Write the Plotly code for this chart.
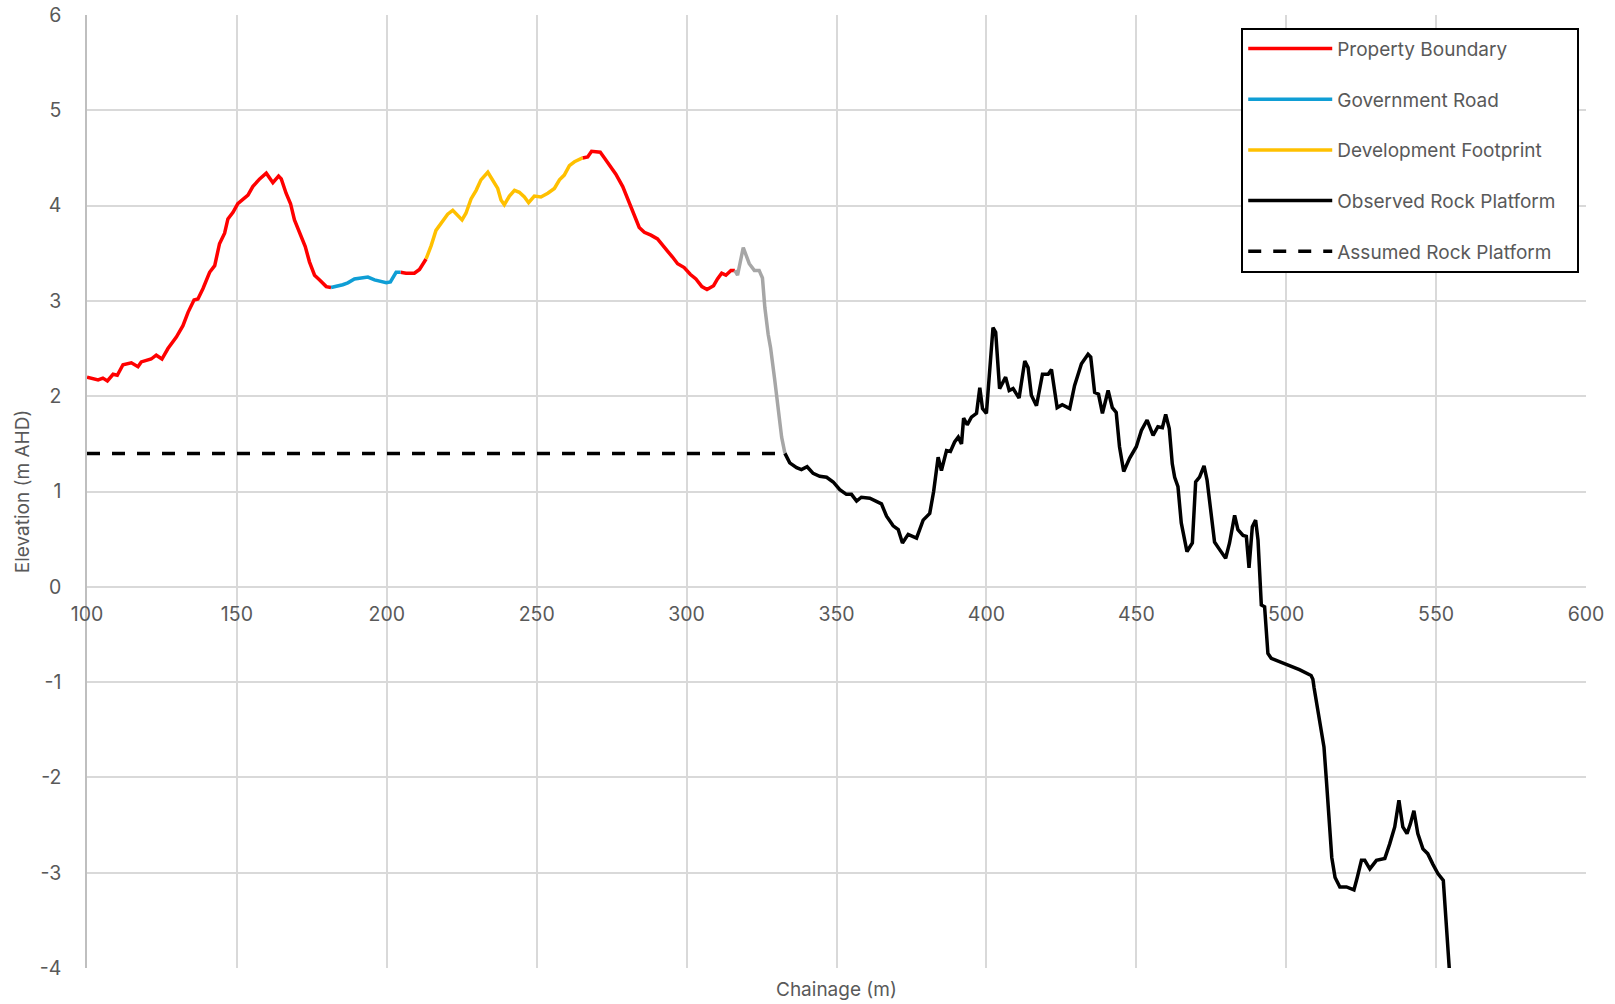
import plotly.graph_objects as go

# ---- data (chainage in m, elevation in m AHD) ----
pb1_x = [100, 103.7, 105.3, 106.8, 108.7, 110.1, 112, 114.8, 117, 118.1, 121.4, 123.1, 125, 127, 129.8, 132,
         133.7, 135.7, 137, 138.7, 140.9, 142.6, 144.2, 145.9, 147, 148.7, 150.3, 152, 153.7, 155.3, 157.6,
         159.8, 162, 163.9, 164.8, 166.4, 167.9, 169.2, 170.9, 172.8, 174.2, 175.9, 177.6, 179.8, 181.4]
pb1_y = [2.20, 2.17, 2.19, 2.16, 2.23, 2.22, 2.33, 2.35, 2.31, 2.36, 2.39, 2.43, 2.39, 2.50, 2.62, 2.74,
         2.88, 3.01, 3.02, 3.13, 3.30, 3.37, 3.60, 3.71, 3.86, 3.93, 4.02, 4.07, 4.11, 4.20, 4.28,
         4.34, 4.24, 4.31, 4.28, 4.13, 4.02, 3.85, 3.72, 3.57, 3.41, 3.27, 3.22, 3.15, 3.14]

gr_x = [181.4, 183.1, 185.3, 187, 189.2, 193.7, 195.9, 199.8, 201.2, 203.1, 204.6]
gr_y = [3.14, 3.15, 3.17, 3.19, 3.23, 3.25, 3.22, 3.19, 3.20, 3.30, 3.30]

pb2_x = [204.6, 206.4, 209.2, 210.9, 213.1]
pb2_y = [3.30, 3.29, 3.29, 3.33, 3.44]

df_x = [213.1, 214.8, 216.4, 218.7, 220.3, 222, 223.7, 225.1, 226.4, 228.1, 229.8, 231.4, 233.7, 235.3, 237,
        238.1, 239.2, 240.9, 242.6, 244.2, 245.9, 247.3, 249.2, 251.4, 253.7, 255.9, 257.6, 259.2, 260.9,
        262.6, 265.3]
df_y = [3.44, 3.58, 3.74, 3.85, 3.91, 3.95, 3.90, 3.85, 3.92, 4.07, 4.16, 4.27, 4.35, 4.27, 4.18,
        4.06, 4.01, 4.10, 4.16, 4.14, 4.09, 4.03, 4.10, 4.09, 4.13, 4.18, 4.27, 4.32, 4.42,
        4.46, 4.50]

pb3_x = [265.3, 267, 268.3, 269.8, 271.2, 272.6, 274.2, 276.4, 278.7, 280.9, 282.6, 284.2, 285.9, 288.1,
         290.3, 292, 293.7, 295.3, 297, 299.2, 301.2, 303.1, 305.1, 306.8, 309, 310.3, 311.7, 313.1,
         314.8, 316.1]
pb3_y = [4.50, 4.51, 4.57, 4.56, 4.56, 4.50, 4.43, 4.33, 4.20, 4.02, 3.89, 3.77, 3.72, 3.69,
         3.65, 3.58, 3.52, 3.46, 3.39, 3.35, 3.28, 3.23, 3.15, 3.12, 3.16, 3.23, 3.29, 3.27,
         3.32, 3.32]

cliff_x = [316.1, 317, 318.9, 320.9, 322.6, 324.2, 325.3, 326.1, 327.2, 328, 329.4, 330.6, 331.7, 332.8]
cliff_y = [3.32, 3.27, 3.56, 3.39, 3.32, 3.32, 3.24, 2.93, 2.65, 2.51, 2.17, 1.89, 1.57, 1.40]

rock_x = [332.8, 334.4, 336.7, 338.3, 340.2, 342.2, 344.4, 346.7, 348.9, 351.1, 353.3, 355, 356.7, 358.3,
          361.1, 362.8, 365, 366.7, 368.9, 370.6, 372, 373.9, 376.7, 378.9, 381.1, 382.4, 383.9, 385,
          386.7, 388, 389.4, 390.6, 391.7, 392.4, 393.6, 395, 396.7, 397.8, 398.7, 400, 401.3, 402.2,
          403.1, 404.4, 406.4, 407.6, 408.9, 410.9, 412.8, 413.9, 415, 416.7, 418.7, 420.6, 421.7, 423.6,
          425.3, 427.8, 429.4, 431.7, 433.9, 434.8, 436.1, 437.4, 438.7, 440.6, 442, 443.3, 444.4, 445.8,
          447.8, 450, 451.7, 453.6, 455.6, 457.2, 458.7, 459.8, 461, 462, 462.8, 463.9, 465, 466.9,
          468.7, 469.8, 471.1, 472.6, 473.6, 475, 476.1, 477.8, 479.8, 481.1, 482.8, 483.9, 485.6, 486.7,
          487.6, 488.7, 489.8, 490.6, 491.7, 492.8, 493.9, 495, 500, 504.4, 508.3, 508.9, 509.3, 510.2,
          511.3, 512.6, 513.5, 514.4, 515.2, 516.3, 517.9, 520.1, 522.6, 523.7, 525.1, 526.2, 527.9,
          530.1, 532.9, 534.5, 536.2, 537.6, 538.9, 540.3, 541.4, 542.6, 543.9, 545.6, 547.2, 548.9,
          550.6, 552.4, 553.3, 554.4, 554.6]
rock_y = [1.40, 1.30, 1.25, 1.23, 1.26, 1.19, 1.16, 1.15, 1.10, 1.02, 0.97, 0.97, 0.90, 0.94,
          0.93, 0.90, 0.87, 0.74, 0.64, 0.60, 0.46, 0.55, 0.51, 0.70, 0.77, 1.00, 1.36, 1.22,
          1.43, 1.42, 1.52, 1.57, 1.50, 1.77, 1.70, 1.78, 1.82, 2.09, 1.87, 1.82, 2.37, 2.72,
          2.67, 2.08, 2.20, 2.06, 2.08, 1.98, 2.37, 2.30, 2.01, 1.90, 2.23, 2.23, 2.28, 1.88,
          1.91, 1.87, 2.11, 2.34, 2.44, 2.41, 2.04, 2.02, 1.82, 2.06, 1.88, 1.83, 1.47, 1.21,
          1.35, 1.47, 1.64, 1.75, 1.59, 1.68, 1.67, 1.81, 1.66, 1.29, 1.15, 1.05, 0.67, 0.37,
          0.46, 1.10, 1.15, 1.27, 1.12, 0.73, 0.47, 0.39, 0.30, 0.46, 0.75, 0.60, 0.54, 0.53,
          0.20, 0.63, 0.70, 0.49, -0.19, -0.21, -0.70, -0.75, -0.81, -0.87, -0.93, -0.97, -1.06, -1.24,
          -1.43, -1.68, -2.07, -2.52, -2.84, -3.05, -3.15, -3.15, -3.18, -3.05, -2.87, -2.87, -2.96,
          -2.87, -2.85, -2.70, -2.52, -2.24, -2.52, -2.59, -2.49, -2.35, -2.59, -2.75, -2.80, -2.91,
          -3.01, -3.08, -3.47, -4.00, -4.10]

assumed_x = [100, 332.8]
assumed_y = [1.4, 1.4]

x_ticks = [100, 150, 200, 250, 300, 350, 400, 450, 500, 550, 600]
y_ticks = [-4, -3, -2, -1, 0, 1, 2, 3, 4, 5, 6]

RED = "#FF0000"
BLUE = "#0F9ED5"
YELLOW = "#FFC000"
GREY = "#A6A6A6"
BLACK = "#000000"
TXT = "#595959"
GRID = "#D9D9D9"
FONT = "Inter, Lato, Arial, sans-serif"
LW = 3.5
PAD = "\u00a0\u00a0\u00a0"  # trailing space inside the legend box

fig = go.Figure()

def add(x, y, name, color, group, show, dash=None):
    fig.add_trace(go.Scatter(
        x=x, y=y, mode="lines", name=name + PAD, legendgroup=group, showlegend=show,
        line=dict(color=color, width=LW, dash=dash), hoverinfo="x+y"))

add(pb1_x, pb1_y, "Property Boundary", RED, "pb", True)
add(pb2_x, pb2_y, "Property Boundary", RED, "pb", False)
add(pb3_x, pb3_y, "Property Boundary", RED, "pb", False)
add(gr_x, gr_y, "Government Road", BLUE, "gr", True)
add(df_x, df_y, "Development Footprint", YELLOW, "df", True)
add(cliff_x, cliff_y, "Cliff", GREY, "cl", False)
add(rock_x, rock_y, "Observed Rock Platform", BLACK, "orp", True)
add(assumed_x, assumed_y, "Assumed Rock Platform", BLACK, "arp", True, dash="13px,12px")

fig.update_layout(
    width=1615, height=1004,
    margin=dict(l=86.5, r=29, t=15.4, b=36, autoexpand=False),
    paper_bgcolor="white", plot_bgcolor="white",
    font=dict(family=FONT, color=TXT, size=18),
    xaxis=dict(
        range=[100, 600], tickvals=x_ticks, ticktext=[str(v) for v in x_ticks],
        anchor="free", position=0.4, side="bottom", automargin=False,
        showgrid=True, gridcolor=GRID, gridwidth=1.5,
        zeroline=False, showline=False, ticks="",
        tickfont=dict(size=19.5, color=TXT), ticklabelstandoff=14,
        ticklabeloverflow="allow",
    ),
    yaxis=dict(
        range=[-4, 6], tickvals=y_ticks, ticktext=[str(v) for v in y_ticks],
        automargin=False,
        showgrid=True, gridcolor=GRID, gridwidth=1.5,
        zeroline=True, zerolinecolor=GRID, zerolinewidth=1.5,
        showline=True, linecolor="#BFBFBF", linewidth=1.5,
        ticks="", tickfont=dict(size=19.5, color=TXT), ticklabelstandoff=20,
        ticklabeloverflow="allow",
        title=dict(text="Elevation (m AHD)", font=dict(size=19, color=TXT), standoff=5),
    ),
    legend=dict(
        x=0.770, y=0.9867, xanchor="left", yanchor="top",
        bgcolor="white", bordercolor="black", borderwidth=2,
        font=dict(size=19, color=TXT), traceorder="grouped", tracegroupgap=23,
        itemwidth=84,
    ),
    annotations=[dict(
        text="Chainage (m)", xref="paper", yref="paper", x=0.5, y=0, yshift=-21,
        xanchor="center", yanchor="middle", showarrow=False,
        font=dict(size=19, color=TXT),
    )],
)

# remove the browser's default 8px body margin so the figure fills the window
fig.write_html("out.html", config={"displayModeBar": False},
               post_script="document.body.style.margin='0';")
